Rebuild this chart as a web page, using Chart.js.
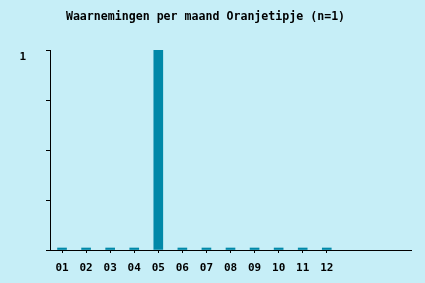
<!DOCTYPE html>
<html>
<head>
<meta charset="utf-8">
<script src="https://cdn.jsdelivr.net/npm/chart.js@4/dist/chart.umd.min.js"></script>
<style>
html,body{margin:0;padding:0;background:#c6eef7;}
#wrap{width:425px;height:283px;position:relative;}
</style>
</head>
<body>
<div id="wrap"><canvas id="c" width="425" height="283"></canvas></div>
<script>
const titleText = 'Waarnemingen per maand Oranjetipje (n=1)';
const months = ['01','02','03','04','05','06','07','08','09','10','11','12','','',''];
const counts = [0,0,0,0,1,0,0,0,0,0,0,0,null,null,null];
const yTickLabels = {1:'1'};

const FONT = '"DejaVu Sans Mono", "Liberation Mono", monospace';
const barColor = '#0088a8';

new Chart(document.getElementById('c'), {
  type: 'bar',
  data: {
    labels: months,
    datasets: [{
      data: counts,
      backgroundColor: barColor,
      borderWidth: 0,
      barThickness: 9,
      minBarLength: 2
    }]
  },
  options: {
    responsive: false,
    animation: false,
    devicePixelRatio: 1,
    layout: {padding: {left: 0, right: 14, top: 0, bottom: 0}},
    plugins: {
      legend: {display: false},
      tooltip: {enabled: false},
      title: {
        display: true,
        text: titleText,
        color: '#000',
        font: {family: FONT, size: 11.6, weight: 'bold', lineHeight: 1.2},
        padding: {top: 10, bottom: 26.1}
      }
    },
    scales: {
      x: {
        offset: true,
        grid: {
          offset: false,
          drawOnChartArea: false,
          drawTicks: true,
          tickLength: 3,
          color: (ctx) => (ctx.index < 12 ? '#000' : 'rgba(0,0,0,0)')
        },
        border: {display: true, color: '#000', width: 1},
        ticks: {
          color: '#000',
          font: {family: FONT, size: 11, weight: 'bold'},
          padding: 9,
          maxRotation: 0,
          autoSkip: false
        },
        afterFit: (s) => { s.height = 33; }
      },
      y: {
        min: 0,
        max: 1,
        grid: {
          drawOnChartArea: false,
          drawTicks: true,
          tickLength: 4,
          color: '#000'
        },
        border: {display: true, color: '#000', width: 1},
        ticks: {
          stepSize: 0.25,
          color: '#000',
          font: {family: FONT, size: 11, weight: 'bold'},
          padding: 20,
          labelOffset: 7,
          callback: (v) => (yTickLabels[v] !== undefined ? yTickLabels[v] : '')
        },
        afterFit: (s) => { s.width = 50; }
      }
    }
  }
});
</script>
</body>
</html>
